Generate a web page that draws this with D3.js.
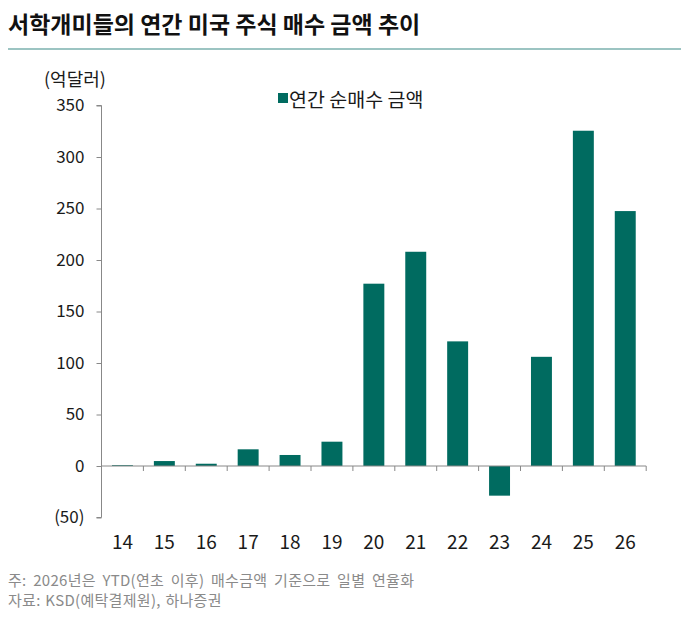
<!DOCTYPE html>
<html><head><meta charset="utf-8">
<script src="https://cdn.jsdelivr.net/npm/d3@7"></script>
<style>body{margin:0;background:#fff;} text{font-family:"Noto Sans CJK KR","Noto Sans",sans-serif;}</style>
</head><body>
<svg id="c" width="689" height="622"></svg>
<script>
const categories = ["14","15","16","17","18","19","20","21","22","23","24","25","26"];
const values = [0.8, 4.8, 2.2, 16.2, 10.7, 23.6, 177, 208, 121, -28.8, 106, 325.5, 247.5];
const yTicks = [-50, 0, 50, 100, 150, 200, 250, 300, 350];
const seriesName = "연간 순매수 금액";
const title = "서학개미들의 연간 미국 주식 매수 금액 추이";
const unitLabel = "(억달러)";
const notes = ["주: 2026년은 YTD(연초 이후) 매수금액 기준으로 일별 연율화", "자료: KSD(예탁결제원), 하나증권"];

const svg = d3.select("#c");
const teal = "#006B60";
const numFont = "'Open Sans', 'Noto Sans', sans-serif";

svg.append("text").attr("x", 8).attr("y", 33).attr("font-size", 23).attr("font-weight", "bold")
  .attr("fill", "#111").text(title);
svg.append("line").attr("x1", 8).attr("x2", 681).attr("y1", 49).attr("y2", 49)
  .attr("stroke", "#3a8a86").attr("stroke-width", 1.2);

const xb = d3.scaleBand().domain(categories).range([101.5, 646.2]);
const y = d3.scaleLinear().domain([-50, 350]).range([517.5, 105.5]);

// y axis
const yAxis = d3.axisLeft(y).tickValues(yTicks).tickSize(5).tickPadding(12)
  .tickFormat(d => d < 0 ? "(" + Math.abs(d) + ")" : d);
const gy = svg.append("g").attr("transform", "translate(101.5,0)").call(yAxis);
gy.select(".domain").attr("stroke", "#888").attr("d", `M-5,${y(350)}H0V${y(-50)}H-5`);
gy.selectAll(".tick line").attr("stroke", "#888");
gy.selectAll(".tick text").attr("font-size", 17).attr("fill", "#1a1a1a")
  .attr("font-family", numFont);

// bars
svg.selectAll("rect.bar").data(values).enter().append("rect").attr("class", "bar")
  .attr("x", (d, i) => xb(categories[i]) + xb.bandwidth() * 0.25)
  .attr("width", xb.bandwidth() * 0.5)
  .attr("y", d => y(Math.max(0, d)))
  .attr("height", d => Math.abs(y(d) - y(0)))
  .attr("fill", teal);

// x axis at zero
const xAxis = d3.axisBottom(xb).tickSize(0).tickPadding(0);
const gx = svg.append("g").attr("transform", `translate(0,${y(0)})`).call(xAxis);
gx.select(".domain").attr("stroke", "#888").attr("d", `M101.5,0H646.2`);
gx.selectAll(".tick text").remove();
svg.selectAll("line.bt").data(categories).enter().append("line").attr("class", "bt")
  .attr("x1", (d, i) => 101.5 + xb.step() * (i + 1)).attr("x2", (d, i) => 101.5 + xb.step() * (i + 1))
  .attr("y1", y(0)).attr("y2", y(0) + 5).attr("stroke", "#888");

// category labels
svg.selectAll("text.cat").data(categories).enter().append("text").attr("class", "cat")
  .attr("x", d => xb(d) + xb.bandwidth() / 2).attr("y", 549)
  .attr("text-anchor", "middle").attr("font-size", 19).attr("fill", "#1a1a1a")
  .attr("font-family", numFont).text(d => d);

// unit label
svg.append("text").attr("x", 44).attr("y", 86).attr("font-size", 18).attr("fill", "#1a1a1a").text(unitLabel);

// legend
svg.append("rect").attr("x", 278).attr("y", 93).attr("width", 10).attr("height", 10).attr("fill", teal);
svg.append("text").attr("x", 289).attr("y", 107).attr("font-size", 19.5).attr("fill", "#1a1a1a").text(seriesName);

// notes
svg.selectAll("text.note").data(notes).enter().append("text").attr("class", "note")
  .attr("x", 8).attr("y", (d, i) => 586 + i * 20).attr("font-size", 15).attr("letter-spacing", 0.3)
  .attr("word-spacing", (d, i) => i === 0 ? 3 : 1)
  .attr("fill", "#8a8a8a").text(d => d);
</script>
</body></html>
